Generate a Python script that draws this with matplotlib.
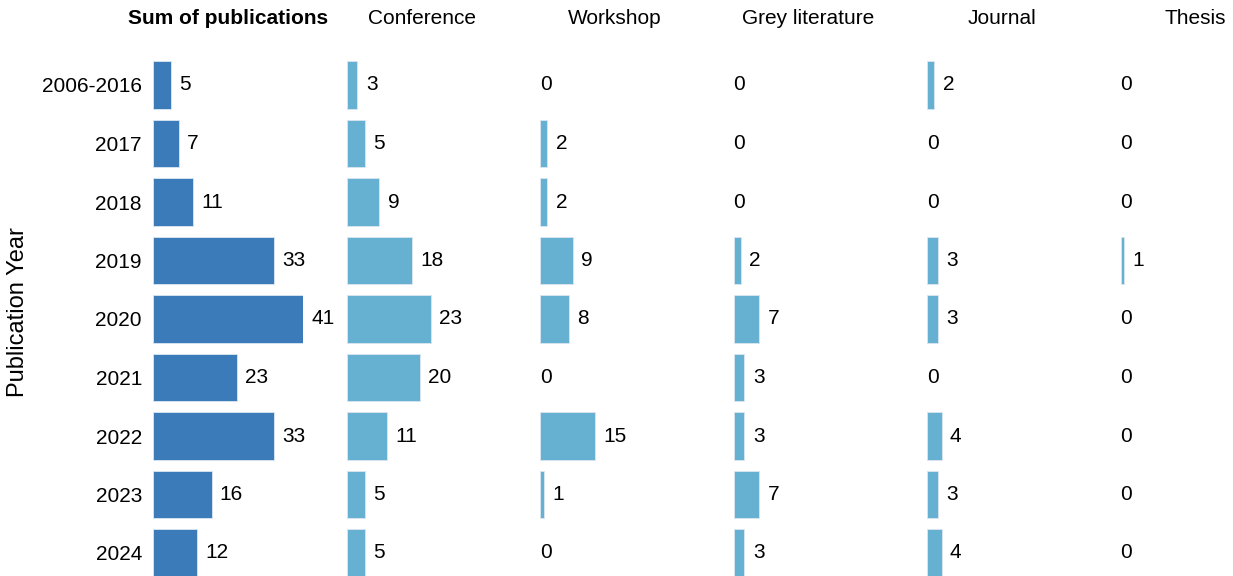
import matplotlib.pyplot as plt

plt.rcParams["font.family"] = ["Liberation Sans", "DejaVu Sans"]

years = ["2006-2016", "2017", "2018", "2019", "2020", "2021", "2022", "2023", "2024"]
panels = ["Sum of publications", "Conference", "Workshop", "Grey literature", "Journal", "Thesis"]
total = [5, 7, 11, 33, 41, 23, 33, 16, 12]
conference = [3, 5, 9, 18, 23, 20, 11, 5, 5]
workshop = [0, 2, 2, 9, 8, 0, 15, 1, 0]
grey = [0, 0, 0, 2, 7, 3, 3, 7, 3]
journal = [2, 0, 0, 3, 3, 0, 4, 3, 4]
thesis = [0, 0, 0, 1, 0, 0, 0, 0, 0]

series = [total, conference, workshop, grey, journal, thesis]
dark = "#3b7bba"
light = "#66b1d1"

W, H = 1233, 576
fig = plt.figure(figsize=(W / 100, H / 100), dpi=100)

row0, step = 85, 58.5
top_px = row0 - step / 2
ymax = 8 + (H - (row0 + 8 * step)) / step

for i, (name, vals) in enumerate(zip(panels, series)):
    left = 153 + 193.5 * i
    ax = fig.add_axes([left / W, 0, 150 / W, (H - top_px) / H])
    ypos = list(range(len(years)))
    widths = [0.6 if v > 0 else 0 for v in vals]
    ax.barh(ypos, vals, height=0.82, color=dark if i == 0 else light,
            edgecolor="#dde6f0", linewidth=widths)
    ax.set_xlim(0, 41)
    ax.set_ylim(ymax, -0.5)
    for y, v in zip(ypos, vals):
        ax.annotate(str(v), (v, y), xytext=(6 if v > 0 else 0, 0),
                    textcoords="offset points", va="center", ha="left", fontsize=15)
    for s in ax.spines.values():
        s.set_visible(False)
    ax.set_xticks([])
    if i == 0:
        ax.set_yticks(ypos)
        ax.set_yticklabels(years, fontsize=15)
        ax.tick_params(axis="y", length=0, pad=8)
    else:
        ax.set_yticks([])
    fig.text((left + 75) / W, 1 - 18 / H, name, ha="center", va="center", fontsize=15,
             fontweight="bold" if i == 0 else "normal")

fig.text(18 / W, 1 - 312 / H, "Publication Year", rotation=90, ha="center", va="center",
         fontsize=17)

fig.savefig("out.png", dpi=100)
